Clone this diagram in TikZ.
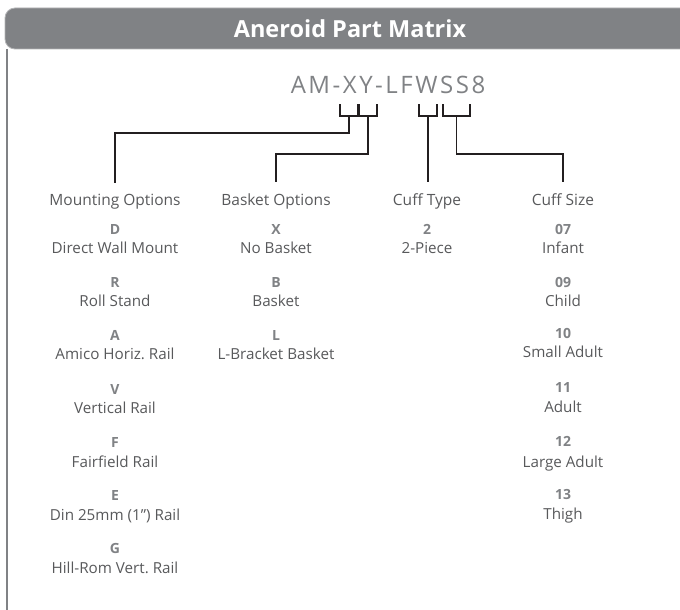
\documentclass[tikz,border=0pt]{standalone}
\usepackage{fontspec}
\setmainfont{Open Sans}
\usetikzlibrary{positioning, calc}
\definecolor{headgray}{RGB}{128,130,133}
\definecolor{textgray}{RGB}{88,89,91}
\definecolor{linecolor}{RGB}{35,31,32}
\frenchspacing

\begin{document}
\begin{tikzpicture}[x=1pt, y=-1pt,
    colhead/.style={anchor=base, text=textgray, font=\fontsize{15.5}{18}\selectfont, inner sep=0pt, outer ysep=11pt},
    optcode/.style={anchor=base, text=headgray, font=\bfseries\fontsize{14}{16}\selectfont},
    optdesc/.style={anchor=base, text=textgray, font=\fontsize{15.2}{18}\selectfont},
    link/.style={draw=linecolor, line width=1.8pt}]
    \useasboundingbox (0,0) rectangle (680,610);

    % Header bar and left rule
    \draw[fill=headgray, draw=headgray!60, line width=0.8pt, rounded corners=10pt] (5,8) rectangle (700,49);
    \node[font=\bfseries\fontsize{23.5}{28}\selectfont, text=white, anchor=base] (title) at (350,38) {Aneroid Part Matrix};
    \draw[headgray, line width=2pt] (7,49) -- (7,610);

    % Part number
    \node[anchor=base, text=headgray, font=\fontsize{24}{30}\selectfont\addfontfeatures{LetterSpace=10.5}] (code) at (388,93) {AM-XY-LFWSS8};
    \coordinate (bX) at (349,116);
    \coordinate (bY) at (368,116);
    \coordinate (bW) at (428,116);
    \coordinate (bS) at (456.5,116);

    % Column headings
    \node[colhead] (mount) at (115,205) {Mounting Options};
    \node[colhead] (basket) at (276,205) {Basket Options};
    \node[colhead] (ctype) at (427,205) {Cuff Type};
    \node[colhead] (csize) at (563,205) {Cuff Size};

    % Brackets under the code
    \draw[link] ($(bX)+(-9,-12)$) |- (bX) -| ($(bX)+(9,-12)$);
    \draw[link] ($(bY)+(-9,-12)$) |- (bY) -| ($(bY)+(9,-12)$);
    \draw[link] ($(bW)+(-9,-12)$) |- (bW) -| ($(bW)+(9,-12)$);
    \draw[link] ($(bS)+(-13.5,-12)$) |- (bS) -| ($(bS)+(13.5,-12)$);

    % Connectors to the headings
    \draw[link] (bX) -- ++(0,17) -| (mount.north);
    \draw[link] (bY) -- ++(0,38) -| (basket.north);
    \draw[link] (bW) -- (bW |- ctype.north);
    \draw[link] (bS) -- ++(0,38) -| (csize.north);

    % Mounting options
    \node[optcode] (mD) at (115,234) {D};
    \node[optdesc] (mDd) at (115,253) {Direct Wall Mount};
    \node[optcode] (mR) at (115,287) {R};
    \node[optdesc] (mRd) at (115,306) {Roll Stand};
    \node[optcode] (mA) at (115,340) {A};
    \node[optdesc] (mAd) at (115,359) {Amico Horiz. Rail};
    \node[optcode] (mV) at (115,394) {V};
    \node[optdesc] (mVd) at (115,413) {Vertical Rail};
    \node[optcode] (mF) at (115,447) {F};
    \node[optdesc] (mFd) at (115,467) {Fairfield Rail};
    \node[optcode] (mE) at (115,500) {E};
    \node[optdesc] (mEd) at (115,520) {Din 25mm (1") Rail};
    \node[optcode] (mG) at (115,553) {G};
    \node[optdesc] (mGd) at (115,573) {Hill-Rom Vert. Rail};

    % Basket options
    \node[optcode] (bXc) at (276,234) {X};
    \node[optdesc] (bXd) at (276,253) {No Basket};
    \node[optcode] (bBc) at (276,287) {B};
    \node[optdesc] (bBd) at (276,306) {Basket};
    \node[optcode] (bLc) at (276,340) {L};
    \node[optdesc] (bLd) at (276,359) {L-Bracket Basket};

    % Cuff type
    \node[optcode] (t2) at (427,234) {2};
    \node[optdesc] (t2d) at (427,253) {2-Piece};

    % Cuff size
    \node[optcode] (s07) at (563,234) {07};
    \node[optdesc] (s07d) at (563,253) {Infant};
    \node[optcode] (s09) at (563,287) {09};
    \node[optdesc] (s09d) at (563,306) {Child};
    \node[optcode] (s10) at (563,338) {10};
    \node[optdesc] (s10d) at (563,357) {Small Adult};
    \node[optcode] (s11) at (563,392) {11};
    \node[optdesc] (s11d) at (563,412) {Adult};
    \node[optcode] (s12) at (563,446) {12};
    \node[optdesc] (s12d) at (563,467) {Large Adult};
    \node[optcode] (s13) at (563,499) {13};
    \node[optdesc] (s13d) at (563,519) {Thigh};
\end{tikzpicture}
\end{document}
